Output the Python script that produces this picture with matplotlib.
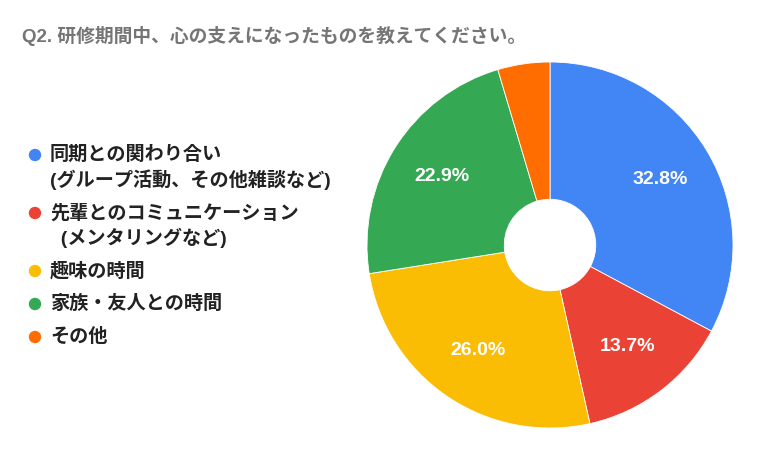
import matplotlib
matplotlib.use("Agg")
import matplotlib.pyplot as plt
from matplotlib.patches import Ellipse

plt.rcParams['font.family'] = ['Liberation Sans', 'Noto Sans CJK JP', 'DejaVu Sans']

title = "Q2. 研修期間中、心の支えになったものを教えてください。"
labels = ["同期との関わり合い\n(グループ活動、その他雑談など)",
          "先輩とのコミュニケーション\n  (メンタリングなど)",
          "趣味の時間",
          "家族・友人との時間",
          "その他"]
values = [32.8, 13.7, 26.0, 22.9, 4.6]
colors = ["#4285f4", "#ea4335", "#fbbc04", "#34a853", "#ff6d01"]

W, H = 767, 451
fig = plt.figure(figsize=(W / 100, H / 100), dpi=100)

# pie axes: centre (550, 245) px, radius 183 px
cx, cy, r = 550, 245, 183
ax = fig.add_axes([(cx - r) / W, (H - cy - r) / H, 2 * r / W, 2 * r / H])
wedges, texts, autotexts = ax.pie(
    values, colors=colors, startangle=90, counterclock=False,
    radius=1.0, autopct=lambda p: f"{p:.1f}%" if p >= 5 else "",
    pctdistance=0.70,
    wedgeprops=dict(width=0.75, edgecolor="white", linewidth=0.6),
    textprops=dict(color="white", fontsize=14, fontweight="bold"))
ax.set_xlim(-1, 1)
ax.set_ylim(-1, 1)
ax.set_aspect("equal")
ax.axis("off")

fig.text(22 / W, 1 - 36 / H, title, fontsize=13.5, fontweight="bold",
         color="#757575", va="center", ha="left")

# legend drawn by hand
y = 155
for lab, col in zip(labels, colors):
    fig.patches.append(Ellipse((35 / W, 1 - y / H), 11 / W, 11 / H, color=col,
                               transform=fig.transFigure, figure=fig))
    lines = lab.split("\n")
    for i, line in enumerate(lines):
        fig.text(50 / W, 1 - (y + 25 * i) / H, line, fontsize=13.8,
                 fontweight="bold", color="#222222", va="center", ha="left")
    y += 25 * (len(lines) - 1) + 33

fig.savefig("out.png", dpi=100, facecolor="white")
